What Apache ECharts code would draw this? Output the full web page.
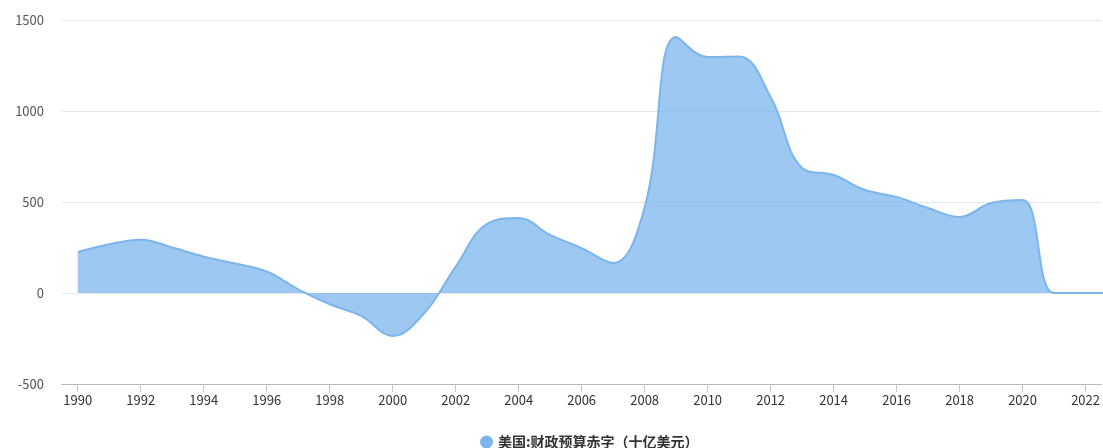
<!DOCTYPE html>
<html>
<head>
<meta charset="utf-8">
<script src="https://cdn.jsdelivr.net/npm/echarts@6/dist/echarts.min.js"></script>
<style>
html,body{margin:0;padding:0;background:#fff;}
#c{width:1103px;height:448px;}
</style>
</head>
<body>
<div id="c"></div>
<script>
const years = [1990,1991,1992,1993,1994,1995,1996,1997,1998,1999,2000,2001,2002,2003,2004,2005,2006,2007,2008,2009,2010,2011,2012,2013,2014,2015,2016,2017,2018,2019,2020,2021,2022,2023];
const deficit = [225,268,293,250,200,162,118,20,-62,-126,-236,-112,145,380,412,319,247,165,470,1407,1297,1300,1077,687,648,566,528,467,418,495,511,0,0,0];
const xTickLabels = [1990,1992,1994,1996,1998,2000,2002,2004,2006,2008,2010,2012,2014,2016,2018,2020,2022];
const yTicks = [-500,0,500,1000,1500];
const seriesName = '美国:财政预算赤字（十亿美元）';

const chart = echarts.init(document.getElementById('c'));
chart.setOption({
  animation: false,
  color: ['#7cb5ec'],
  grid: {left: 62, right: 0, top: 20, bottom: 64},
  legend: {
    data: [seriesName],
    left: 475, top: 430,
    icon: 'circle', itemWidth: 13, itemHeight: 13, itemGap: 7,
    textStyle: {fontSize: 14, fontWeight: 'bold', color: '#333', fontFamily: '"Noto Sans CJK SC", sans-serif'}
  },
  xAxis: {
    type: 'value',
    min: 1989.5, max: 2022.5,
    axisLine: {onZero: false, lineStyle: {color: '#b8b8b8'}},
    axisTick: {customValues: xTickLabels, length: 8, lineStyle: {color: '#c8c8c8'}},
    axisLabel: {customValues: xTickLabels, margin: 10, fontSize: 13, color: '#333', fontFamily: '"Noto Sans CJK SC", sans-serif', formatter: v => String(v)},
    splitLine: {show: false}
  },
  yAxis: {
    type: 'value',
    min: yTicks[0], max: yTicks[yTicks.length-1], interval: 500,
    axisLine: {show: false},
    axisTick: {show: false},
    axisLabel: {margin: 18, fontSize: 13, color: '#555', fontFamily: '"Noto Sans CJK SC", sans-serif', formatter: v => String(v)},
    splitLine: {lineStyle: {color: '#e6e6e6'}}
  },
  series: [{
    name: seriesName,
    type: 'line',
    smooth: 0.4,
    symbol: 'none',
    data: years.map((y, i) => [y, deficit[i]]),
    lineStyle: {width: 2, color: '#7cb5ec'},
    itemStyle: {color: '#7cb5ec'},
    areaStyle: {color: '#7cb5ec', opacity: 0.75, origin: 0}
  }]
});
</script>
</body>
</html>
